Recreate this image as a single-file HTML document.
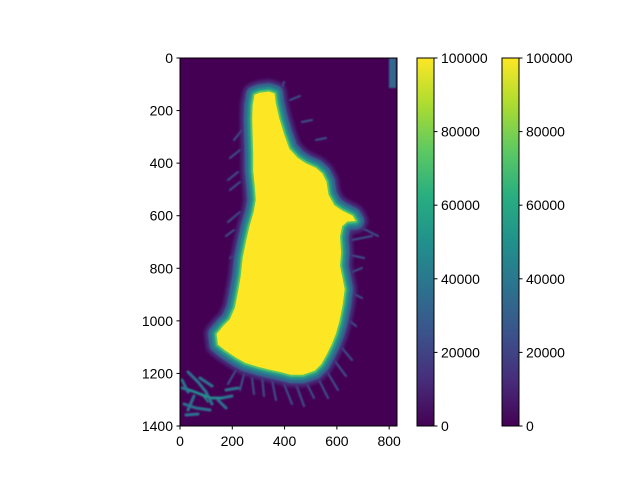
<!DOCTYPE html>
<html><head><meta charset="utf-8"><style>
body{margin:0;background:#fff;}
svg text{font-family:"Liberation Sans","DejaVu Sans",sans-serif;font-size:14px;fill:#000;}
</style></head><body>
<svg id="fig" width="640" height="480" viewBox="0 0 640 480" xmlns="http://www.w3.org/2000/svg">
<defs>
<linearGradient id="vir" x1="0" y1="1" x2="0" y2="0">
<stop offset="0" stop-color="#440154"/><stop offset="0.125" stop-color="#472d7b"/><stop offset="0.25" stop-color="#3b528b"/><stop offset="0.375" stop-color="#2c728e"/><stop offset="0.5" stop-color="#21918c"/><stop offset="0.625" stop-color="#28ae80"/><stop offset="0.75" stop-color="#5ec962"/><stop offset="0.875" stop-color="#addc30"/><stop offset="1" stop-color="#fde725"/>
</linearGradient>
<clipPath id="axclip"><rect x="180" y="58" width="217" height="368"/></clipPath>
<filter id="b2" x="-20%" y="-20%" width="140%" height="140%"><feGaussianBlur stdDeviation="1.5"/></filter>
<filter id="b1" x="-20%" y="-20%" width="140%" height="140%"><feGaussianBlur stdDeviation="0.8"/></filter>
</defs>
<g clip-path="url(#axclip)">
<rect x="180" y="58" width="217" height="368" fill="#440154"/>
<rect x="389" y="58" width="7" height="30" fill="#31688e" filter="url(#b1)"/>
<g id="islands" fill="none" stroke-linecap="round" filter="url(#b1)">
<path d="M182,388 L195,392 L210,398 L222,398 L232,396 M188,372 L198,382 L206,392 L212,404 M184,404 L196,408 L210,410 M194,396 L188,410 M218,400 L226,408 M200,378 L212,386 M186,415 L198,414 M182,380 L188,392 M226,390 L238,388" stroke="#2c728e" stroke-width="3"/>
<path d="M188,389 L200,394 L212,398 L222,398 M202,394 L208,402" stroke="#21918c" stroke-width="1.6"/>
<path d="M252,378 L254,394 M262,376 L264,396 M272,380 L276,400 M284,384 L292,404 M296,384 L304,406 M306,382 L314,398 M318,378 L328,398 M326,370 L338,390 M334,360 L346,376 M342,348 L352,360 M244,374 L240,390 M236,370 L228,384 M346,318 L356,326 M350,292 L362,298 M352,272 L362,268 M350,255 L364,258 M352,240 L372,236 M356,225 L378,236 M240,212 L228,222 M234,230 L226,236 M238,172 L228,180 M240,150 L230,158 M242,130 L234,140 M240,182 L230,190 M236,280 L228,290 M240,252 L230,258 M284,82 L280,94 M290,100 L300,96 M302,122 L312,120 M316,140 L326,138" stroke="#3b528b" stroke-width="2"/>
</g>
<g id="landmass"></g>
</g>
<rect x="180" y="58" width="217" height="368" fill="none" stroke="#000" stroke-width="1"/>
<g id="xticks"></g>
<g id="yticks"></g>
<g id="cb1"></g>
<g id="cb2"></g>
</svg>
<script>
const xTicks=[0,200,400,600,800];
const yTicks=[0,200,400,600,800,1000,1200,1400];
const cbTicks=[0,20000,40000,60000,80000,100000];
const cbMax=100000;
const dataW=830, dataH=1400;
const NS="http://www.w3.org/2000/svg";
const X0=180,Y0=58,W=217,H=368;
const sx=v=>X0+v/dataW*W, sy=v=>Y0+v/dataH*H;
// coastline in data coordinates
const coastX=[285,305,340,362,366,380,398,418,450,480,520,545,560,568,590,620,660,672,640,620,612,616,612,618,630,622,610,596,580,560,540,515,470,424,386,340,300,250,215,170,145,140,165,190,210,222,232,240,252,266,282,290,286,280,280,278,276,278];
const coastY=[140,132,128,135,170,230,290,345,380,400,418,440,470,520,560,580,600,620,622,640,680,740,790,820,880,940,1000,1050,1090,1130,1165,1190,1205,1205,1195,1185,1175,1160,1140,1110,1090,1050,1020,995,950,890,830,760,700,640,585,540,490,430,360,300,230,180];
function el(t,a,p){const e=document.createElementNS(NS,t);for(const k in a)e.setAttribute(k,a[k]);p.appendChild(e);return e;}
const pts=coastX.map((x,i)=>sx(x).toFixed(1)+","+sy(coastY[i]).toFixed(1)).join(" ");
const land=document.getElementById('landmass');
const g0=el('polygon',{points:pts,fill:'#472d7b',stroke:'#472d7b','stroke-width':24,'stroke-linejoin':'round',filter:'url(#b2)'},land);


const g1=el('polygon',{points:pts,fill:'#31688e',stroke:'#31688e','stroke-width':17,'stroke-linejoin':'round',filter:'url(#b1)'},land);


const g2=el('polygon',{points:pts,fill:'#21918c',stroke:'#21918c','stroke-width':10,'stroke-linejoin':'round',filter:'url(#b1)'},land);


const g25=el('polygon',{points:pts,fill:'#5ec962',stroke:'#5ec962','stroke-width':4,'stroke-linejoin':'round',filter:'url(#b1)'},land);


const g3=el('polygon',{points:pts,fill:'#fde725',stroke:'none'},land);


const xg=document.getElementById('xticks');
xTicks.forEach(v=>{const x=sx(v);
 const l=el('line',{x1:x,x2:x,y1:426,y2:429.5,stroke:'#000'},xg);
 
 
 const t=el('text',{x:x,y:446,'text-anchor':'middle'},xg);t.textContent=v;
 
 });
const yg=document.getElementById('yticks');
yTicks.forEach(v=>{const y=sy(v);
 const l=el('line',{x1:176.5,x2:180,y1:y,y2:y,stroke:'#000'},yg);
 
 
 const t=el('text',{x:173,y:y+5,'text-anchor':'end'},yg);t.textContent=v;
 
 });
function colorbar(id,x){const g=document.getElementById(id);const w=17;
 const r=el('rect',{x:x,y:Y0,width:w,height:H,fill:'url(#vir)',stroke:'#000','stroke-width':1},g);
 
 
 cbTicks.forEach(v=>{const y=Y0+H-v/cbMax*H;
  const l=el('line',{x1:x+w,x2:x+w+3.5,y1:y,y2:y,stroke:'#000'},g);
  
  
  const t=el('text',{x:x+w+7,y:y+5},g);t.textContent=v;
  
  });}
colorbar('cb1',417);colorbar('cb2',502);
</script>
</body></html>
